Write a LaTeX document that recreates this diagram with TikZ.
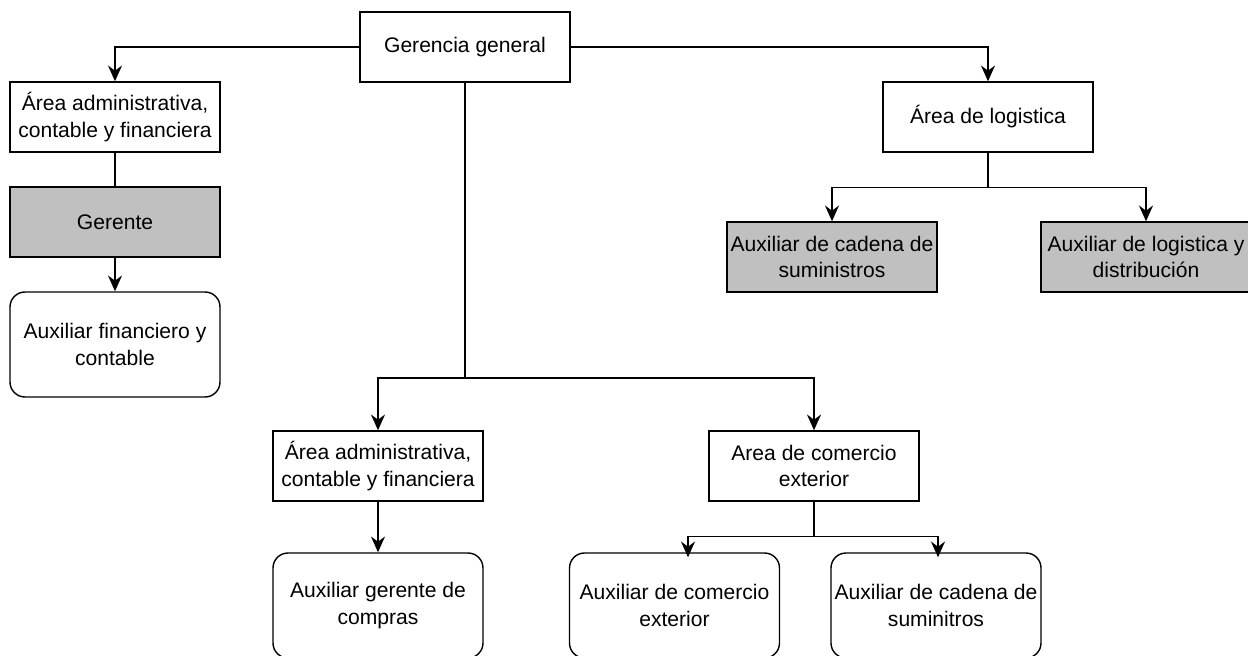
\documentclass[tikz,border=0pt]{standalone}
\usepackage{fontspec}
\setmainfont{Liberation Sans}
\usetikzlibrary{arrows.meta}
\definecolor{boxgray}{RGB}{192,192,192}

\begin{document}
\begin{tikzpicture}[
        font=\fontsize{12}{15}\selectfont,
        line width=0.8pt,
        unit/.style={draw, minimum width=4.2cm, minimum height=1.4cm, align=center, inner sep=1pt},
        staff/.style={unit, fill=boxgray},
        aux/.style={unit, rounded corners=0.3cm, minimum height=2.1cm},
        arr/.style={-{Stealth[length=9pt, width=8pt, inset=3pt]}}
    ]
        \useasboundingbox (0,0) rectangle (24.96,-13.1);
        \node[unit]  (gerencia)  at (9.3, -0.94)   {Gerencia general};
        \node[unit]  (adminA)    at (2.3, -2.34)   {Área administrativa,\\contable y financiera};
        \node[staff] (gerente)   at (2.3, -4.44)   {Gerente};
        \node[aux]   (auxfin)    at (2.3, -6.89)   {Auxiliar financiero y\\contable};
        \node[unit]  (logistica) at (19.76, -2.34) {Área de logistica};
        \node[staff] (auxcad)    at (16.64, -5.14) {Auxiliar de cadena de\\suministros};
        \node[staff] (auxlog)    at (22.92, -5.14) {Auxiliar de logistica y\\distribución};
        \node[unit]  (adminB)    at (7.56, -9.32)  {Área administrativa,\\contable y financiera};
        \node[unit]  (comercio)  at (16.28, -9.32) {Area de comercio\\exterior};
        \node[aux]   (auxcompras)  at (7.56, -12.11)  {Auxiliar gerente de\\compras};
        \node[aux]   (auxcomercio) at (13.49, -12.11) {Auxiliar de comercio\\exterior};
        \node[aux]   (auxsum)      at (18.72, -12.11) {Auxiliar de cadena de\\suminitros};
        \coordinate (gj) at (gerencia.south |- 0,-7.56);
        % gerencia general
        \draw[arr] (gerencia.west) -| (adminA.north);
        \draw[arr] (gerencia.east) -| (logistica.north);
        \draw[arr] (gerencia.south) -- (gj) -| (adminB.north);
        \draw[arr] (gj) -| (comercio.north);
        % areas
        \draw (adminA) -- (gerente);
        \draw[arr] (gerente) -- (auxfin);
        \draw[arr] (logistica.south) -- ++(0,-0.7) -| (auxcad.north);
        \draw[arr] (logistica.south) -- ++(0,-0.7) -| (auxlog.north);
        \draw[arr] (adminB) -- (auxcompras);
        \draw[arr] (comercio.south) -- ++(0,-0.7) -| ([xshift=0.27cm, yshift=-0.1cm]auxcomercio.north);
        \draw[arr] (comercio.south) -- ++(0,-0.7) -| ([xshift=0.04cm, yshift=-0.1cm]auxsum.north);
\end{tikzpicture}
\end{document}
